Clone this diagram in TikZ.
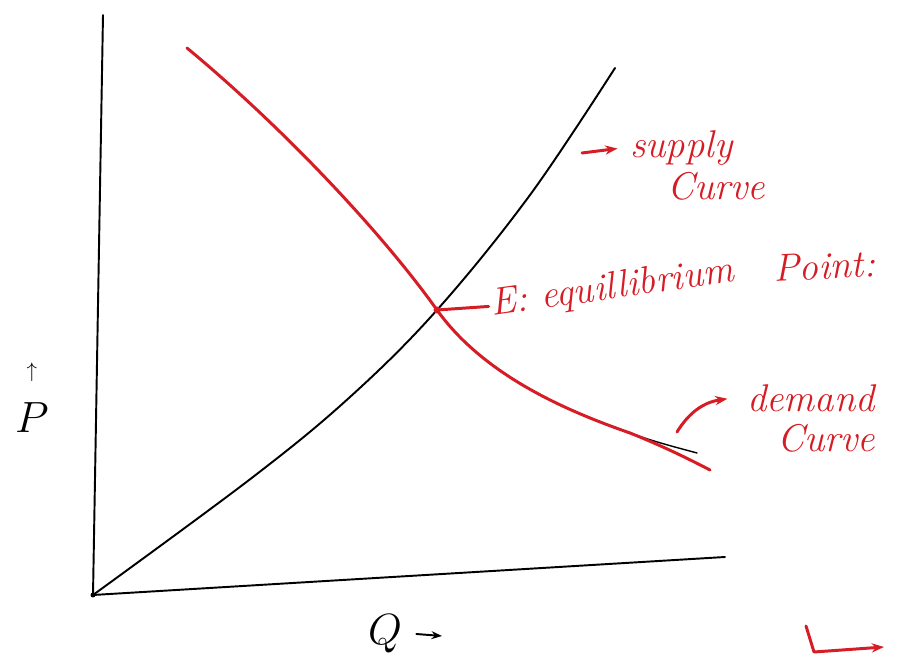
\documentclass[tikz,border=0pt]{standalone}
\usetikzlibrary{arrows.meta}
\definecolor{pen}{RGB}{214,28,36}
\tikzset{
  ink/.style={line width=1.1pt,line cap=round,line join=round},
  redink/.style={ink,pen,line width=1.7pt},
  lbl/.style={text=pen,font=\fontsize{22}{26}\selectfont\itshape,inner sep=1pt},
  axlbl/.style={font=\fontsize{36}{40}\selectfont,inner sep=0pt},
}
\begin{document}
\begin{tikzpicture}[x=0.02cm,y=-0.02cm]
  \useasboundingbox (0,0) rectangle (920,668);
  % --- assi
  \coordinate (O) at (93,595);
  \coordinate (ytop) at (103,15);
  \coordinate (xend) at (725,557);
  \draw[ink] (O) -- (ytop);
  \draw[ink] (O) -- (xend);
  \fill (O) circle (2.5);

  % --- curva di offerta
  \draw[ink] plot[smooth,tension=0.6] coordinates {
    (93,595) (253,477) (350,397) (437,310) (530,195) (615,68)};

  % --- curva di domanda (matita, poi ripassata in rosso)
  \coordinate (E) at (437,310);
  \coordinate (D0) at (187,48);
  \coordinate (D1) at (630,433);
  \draw[ink,line width=0.8pt] (D0) .. controls (280,125) and (380,230) .. (E)
    .. controls (485,377) and (570,412) .. (D1)
    .. controls (655,442) and (675,447) .. (697,453);
  \draw[redink] (D0) .. controls (280,125) and (380,230) .. (E)
    .. controls (485,377) and (570,412) .. (D1)
    .. controls (660,445) and (685,457) .. (710,470);

  % --- punto di equilibrio
  \fill[pen] (E) circle (3.5);
  \node[lbl,anchor=base west,rotate=8] (eq) at (490,316) {E: equillibrium};
  \node[lbl,anchor=base west,rotate=3] (pt) at (772,282) {Point:};
  \draw[redink] (E) -- (eq.west);

  % --- etichette delle curve
  \node[lbl,anchor=base west] (sup) at (628,158) {supply};
  \node[lbl,anchor=base west] (supc) at (665,200) {Curve};
  \coordinate (supA) at (582,153);
  \draw[redink,-{Stealth[length=7pt]}] (supA) -- ([xshift=-6pt]sup.west);

  \node[lbl,anchor=base west] (dem) at (745,412) {demand};
  \node[lbl,anchor=base west] (demc) at (775,452) {Curve};
  \coordinate (demA) at (677,432);
  \draw[redink,-{Stealth[length=7pt]}] (demA) to[bend left=25] ([xshift=-10pt]dem.west);

  % --- etichette degli assi
  \node[axlbl] (P) at (32,418) {$P$};
  \node[font=\large,inner sep=0pt] (Pup) at (32,372) {$\uparrow$};
  \node[axlbl] (Q) at (385,634) {$Q$};
  \coordinate (Qarr) at (442,636);
  \draw[ink,-{Stealth[length=6pt]}] ([xshift=8pt]Q.east) -- (Qarr);

  % --- segno rosso in basso a destra
  \coordinate (L1) at (806,626);
  \coordinate (L2) at (814,652);
  \coordinate (L3) at (884,647);
  \draw[redink,-{Stealth[length=7pt]}] (L1) -- (L2) -- (L3);
\end{tikzpicture}
\end{document}
